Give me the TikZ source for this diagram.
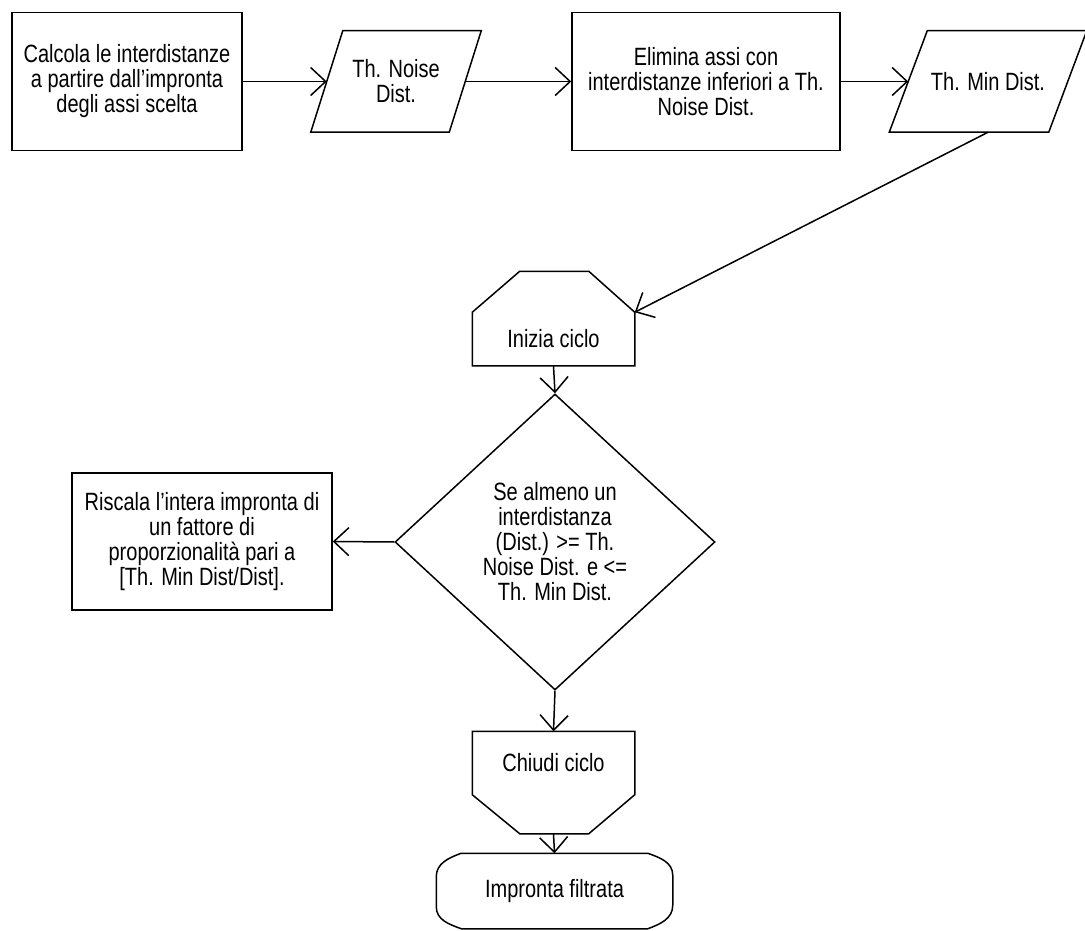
\documentclass[tikz,border=0pt]{standalone}
\usepackage{fontspec}
\setmainfont{Liberation Sans}[FakeStretch=0.8]
\usetikzlibrary{calc}
\usetikzlibrary{shapes.geometric}
\usetikzlibrary{arrows.meta}

\begin{document}
\begin{tikzpicture}[inner sep=0pt,line width=1.5pt,
  font=\fontsize{25}{25}\selectfont,
  proc/.style={draw,rectangle,align=center},
  io/.style={rectangle,align=center},
  flow/.style={-{Straight Barb[length=15pt,width=28pt]}}]
\def\u{1pt}
\useasboundingbox (0,0) rectangle (1085*\u, -931*\u);

% top row
\node[proc,minimum width=230*\u,minimum height=138*\u] (calc) at (127*\u, -81.5*\u) {Calcola le interdistanze\\a partire dall'impronta\\degli assi scelta};
\node[io,minimum width=137*\u,minimum height=100*\u] (noise) at (396*\u, -81.5*\u) {Th. Noise\\Dist.};
\node[proc,minimum width=268*\u,minimum height=138*\u] (elim) at (706*\u, -81.5*\u) {Elimina assi con\\interdistanze inferiori a Th.\\Noise Dist.};
\node[io,minimum width=158*\u,minimum height=100*\u] (mind) at (988*\u, -81.5*\u) {Th. Min Dist.};

\draw ($(noise.north west)+(16*\u,0)$) -- ($(noise.north east)+(16*\u,0)$) -- ($(noise.south east)+(-16*\u,0)$) -- ($(noise.south west)+(-16*\u,0)$) -- cycle;
\draw ($(mind.north west)+(19*\u,0)$) -- ($(mind.north east)+(19*\u,0)$) -- ($(mind.south east)+(-19*\u,0)$) -- ($(mind.south west)+(-19*\u,0)$) -- cycle;

% loop
\node[minimum width=161*\u,minimum height=52*\u] (init) at (553.5*\u, -339*\u) {Inizia ciclo};
\draw (init.north west) -- (init.south west) -- (init.south east) -- (init.north east) -- ++(-46*\u, 41*\u) -- ++(-69*\u, 0) -- cycle;

\node[draw,diamond,minimum width=320*\u,minimum height=296*\u,align=center] (cond) at (555*\u, -542*\u) {Se almeno un\\interdistanza\\(Dist.) >= Th.\\Noise Dist. e <=\\Th. Min Dist.};
\node[proc,minimum width=260*\u,minimum height=137*\u] (scale) at (202*\u, -541.5*\u) {Riscala l'intera impronta di\\un fattore di\\proporzionalità pari a\\ {[Th. Min Dist/Dist].}};

\node[minimum width=161*\u,minimum height=62*\u] (close) at (553.5*\u, -763*\u) {Chiudi ciclo};
\draw (close.south west) -- (close.north west) -- (close.north east) -- (close.south east) -- ++(-46*\u, -39*\u) -- ++(-69*\u, 0) -- cycle;
\coordinate (closebot) at ($(close.south)+(0,-39*\u)$);

\node[minimum width=185*\u,minimum height=74*\u] (stop) at (554.5*\u, -891*\u) {Impronta filtrata};
\draw (stop.north west) -- (stop.north east) to[out=-20,in=90] ++(25*\u, -22*\u) -- ++(0, -30*\u) to[out=-90,in=20] (stop.south east) -- (stop.south west) to[out=160,in=-90] ++(-25*\u, 22*\u) -- ++(0, 30*\u) to[out=90,in=200] (stop.north west);

% connectors
\draw[flow] (calc.east) -- (noise.west);
\draw[flow] (noise.east) -- (elim.west);
\draw[flow] (elim.east) -- (mind.west);
\draw[flow] (mind.south) -- (init.north east);
\draw[flow] (init.south) -- (cond.north);
\draw[flow] (cond.west) -- (scale.east);
\draw[flow] (cond.south) -- (close.north);
\draw[flow] (closebot) -- (stop.north);
\end{tikzpicture}
\end{document}
